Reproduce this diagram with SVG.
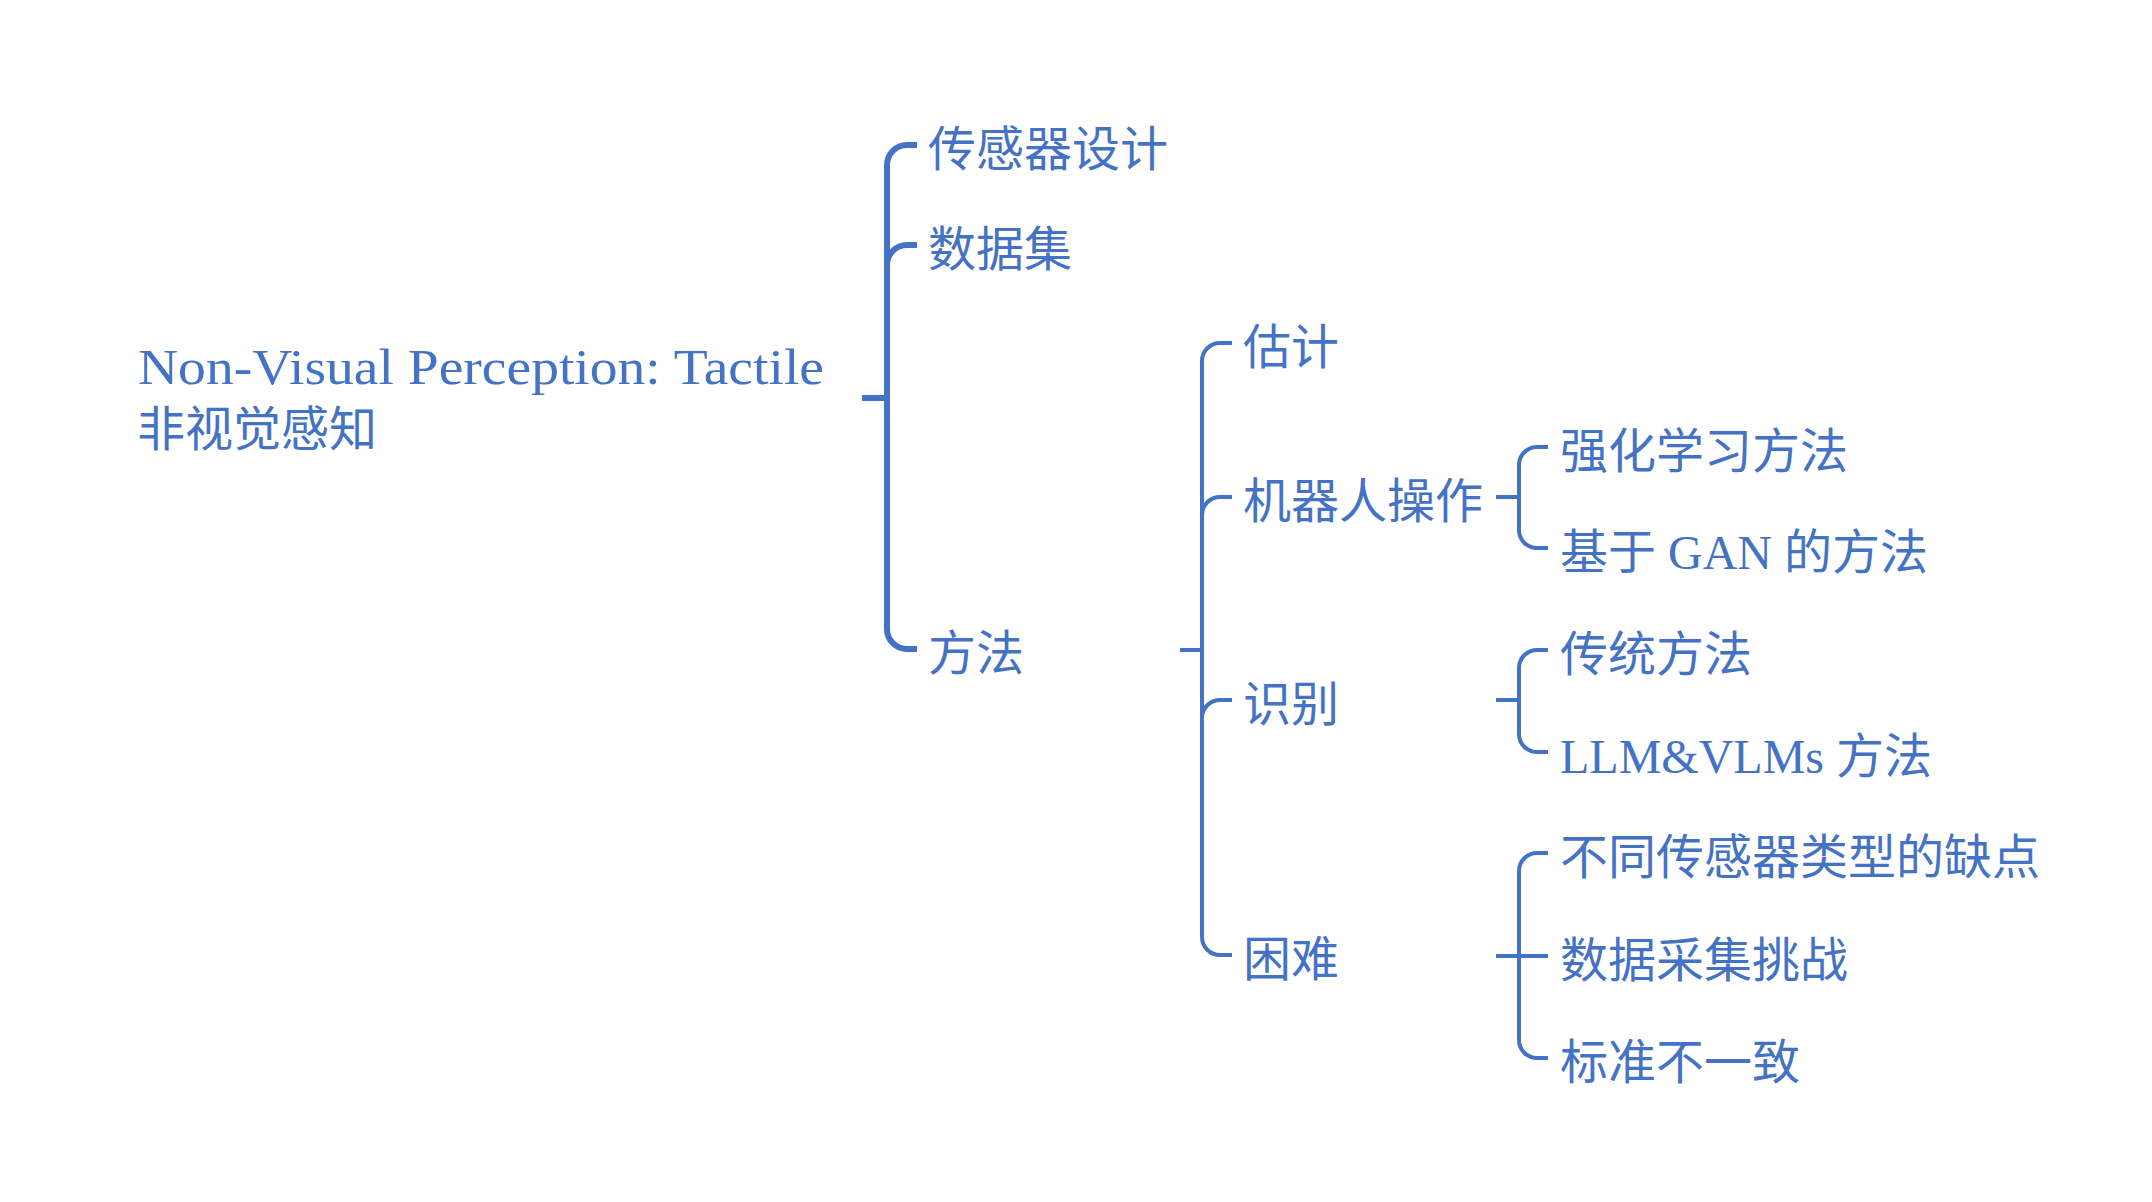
<svg xmlns="http://www.w3.org/2000/svg" width="2152" height="1202" viewBox="0 0 2152 1202">
<style>
  text { font-family: "Liberation Serif", "Noto Sans CJK SC", sans-serif; font-size: 48px; fill: #4472C4; }
  .cjk { font-family: "Noto Sans CJK SC", sans-serif; }
  .c { fill: none; stroke: #4472C4; stroke-width: 4; }
  .c1 { fill: none; stroke: #4472C4; stroke-width: 6; }
</style>
<rect width="2152" height="1202" fill="#ffffff"/>
<g id="connectors">
  <path class="c1" d="M862,398 H887"/>
  <path class="c1" d="M917,145 H907 A20 20 0 0 0 887,165 V629 A20 20 0 0 0 907,649 H917"/>
  <path class="c1" d="M887,265 A20 20 0 0 1 907,245 H917"/>
  <path class="c" d="M1180,650 H1202"/>
  <path class="c" d="M1232,343 H1220 A18 18 0 0 0 1202,361 V937 A18 18 0 0 0 1220,955 H1232"/>
  <path class="c" d="M1202,515 A18 18 0 0 1 1220,497 H1232"/>
  <path class="c" d="M1202,718 A18 18 0 0 1 1220,700 H1232"/>
  <path class="c" d="M1496,497 H1519"/>
  <path class="c" d="M1548,447 H1537 A18 18 0 0 0 1519,465 V530 A18 18 0 0 0 1537,548 H1548"/>
  <path class="c" d="M1496,700 H1519"/>
  <path class="c" d="M1548,650 H1537 A18 18 0 0 0 1519,668 V734 A18 18 0 0 0 1537,752 H1548"/>
  <path class="c" d="M1496,956 H1548"/>
  <path class="c" d="M1548,853 H1537 A18 18 0 0 0 1519,871 V1040 A18 18 0 0 0 1537,1058 H1548"/>
</g>
<g id="root">
  <text x="138" y="384" style="font-size:51px" textLength="686" lengthAdjust="spacingAndGlyphs">Non-Visual Perception: Tactile</text>
  <text class="cjk" x="137" y="446">非视觉感知</text>
</g>
<g id="n-sensor"><text class="cjk" x="928" y="166">传感器设计</text></g>
<g id="n-dataset"><text class="cjk" x="928" y="266">数据集</text></g>
<g id="n-method"><text class="cjk" x="928" y="670">方法</text></g>
<g id="n-estimate"><text class="cjk" x="1243" y="364">估计</text></g>
<g id="n-robot"><text class="cjk" x="1243" y="518">机器人操作</text></g>
<g id="n-recog"><text class="cjk" x="1243" y="721">识别</text></g>
<g id="n-difficulty"><text class="cjk" x="1243" y="976">困难</text></g>
<g id="n-rl"><text class="cjk" x="1560" y="468">强化学习方法</text></g>
<g id="n-gan"><text x="1560" y="569">基于 GAN 的方法</text></g>
<g id="n-trad"><text class="cjk" x="1560" y="671">传统方法</text></g>
<g id="n-llm"><text x="1560" y="773">LLM&amp;VLMs 方法</text></g>
<g id="n-sensortypes"><text class="cjk" x="1560" y="874">不同传感器类型的缺点</text></g>
<g id="n-datacollect"><text class="cjk" x="1560" y="977">数据采集挑战</text></g>
<g id="n-standard"><text class="cjk" x="1560" y="1079">标准不一致</text></g>
</svg>
